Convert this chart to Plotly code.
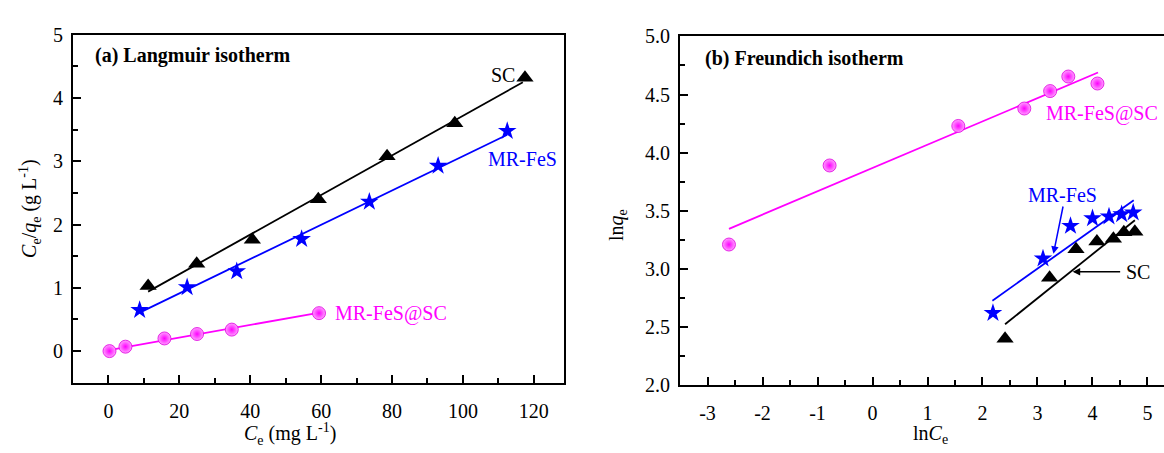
import plotly.graph_objects as go

# ---------------- data: (a) Langmuir ----------------
lang_sc_x = [11.2, 24.9, 40.6, 59.2, 78.6, 97.7, 117.5]
lang_sc_y = [1.03, 1.38, 1.76, 2.40, 3.08, 3.60, 4.32]
lang_fes_x = [8.8, 22.2, 36.2, 54.5, 73.6, 93.0, 112.5]
lang_fes_y = [0.65, 1.01, 1.26, 1.77, 2.36, 2.93, 3.48]
lang_fessc_x = [0.3, 4.8, 15.8, 25.0, 34.8, 59.4]
lang_fessc_y = [0.0, 0.07, 0.20, 0.27, 0.34, 0.60]
# fitted lines (end points)
lang_sc_fit_x = [11.2, 116.9]
lang_sc_fit_y = [0.94, 4.25]
lang_fes_fit_x = [9.1, 112.5]
lang_fes_fit_y = [0.616, 3.42]
lang_fessc_fit_x = [0.2, 59.2]
lang_fessc_fit_y = [0.015, 0.606]

# ---------------- data: (b) Freundlich ----------------
fr_fessc_x = [-2.61, -0.78, 1.56, 2.76, 3.23, 3.56, 4.09]
fr_fessc_y = [3.21, 3.89, 4.23, 4.38, 4.53, 4.655, 4.595]
fr_fes_x = [2.19, 3.10, 3.60, 4.00, 4.30, 4.53, 4.74]
fr_fes_y = [2.62, 3.09, 3.37, 3.435, 3.45, 3.47, 3.485]
fr_sc_x = [2.41, 3.22, 3.70, 4.08, 4.38, 4.57, 4.77]
fr_sc_y = [2.40, 2.925, 3.17, 3.235, 3.26, 3.315, 3.32]
fr_fessc_fit_x = [-2.61, 4.10]
fr_fessc_fit_y = [3.345, 4.69]
fr_fes_fit_x = [2.18, 4.75]
fr_fes_fit_y = [2.727, 3.591]
fr_sc_fit_x = [2.41, 4.77]
fr_sc_fit_y = [2.524, 3.419]

BLACK = "#000000"
BLUE = "#0000FF"
MAG = "#FF00FF"
FONT = "Liberation Serif"

fig = go.Figure()

def add_series(x, y, fx, fy, color, symbol, size, xa, ya, sphere=False):
    fig.add_trace(go.Scatter(x=fx, y=fy, mode="lines",
                             line=dict(color=color, width=1.8),
                             xaxis=xa, yaxis=ya, showlegend=False, hoverinfo="skip"))
    marker = dict(color=color, symbol=symbol, size=size, line=dict(width=0))
    if sphere:
        marker = dict(color="#FFA0FF", symbol="circle", size=size,
                      gradient=dict(type="radial", color=color),
                      line=dict(width=0.8, color="#E000E0"))
    fig.add_trace(go.Scatter(x=x, y=y, mode="markers", marker=marker,
                             xaxis=xa, yaxis=ya, showlegend=False))

add_series(lang_sc_x, lang_sc_y, lang_sc_fit_x, lang_sc_fit_y, BLACK, "triangle-up", 15, "x", "y")
add_series(lang_fes_x, lang_fes_y, lang_fes_fit_x, lang_fes_fit_y, BLUE, "star", 14, "x", "y")
add_series(lang_fessc_x, lang_fessc_y, lang_fessc_fit_x, lang_fessc_fit_y, MAG, "circle", 13, "x", "y", sphere=True)

add_series(fr_fessc_x, fr_fessc_y, fr_fessc_fit_x, fr_fessc_fit_y, MAG, "circle", 13, "x2", "y2", sphere=True)
add_series(fr_fes_x, fr_fes_y, fr_fes_fit_x, fr_fes_fit_y, BLUE, "star", 14, "x2", "y2")
add_series(fr_sc_x, fr_sc_y, fr_sc_fit_x, fr_sc_fit_y, BLACK, "triangle-up", 15, "x2", "y2")

axis_common = dict(showline=True, linecolor="black", linewidth=2, ticks="inside",
                   ticklen=8, tickwidth=1.5, tickcolor="black", showgrid=False, zeroline=False,
                   tickfont=dict(family=FONT, size=20, color="black"))
minor_common = dict(ticks="inside", ticklen=5, tickwidth=1.5, tickcolor="black", showgrid=False)

fig.update_layout(
    width=1164, height=453,
    margin=dict(l=0, r=0, t=0, b=0),
    paper_bgcolor="white", plot_bgcolor="white",
    showlegend=False,
    xaxis=dict(domain=[0.0627, 0.4845], range=[-10, 128.5], tickvals=[0, 20, 40, 60, 80, 100, 120],
               mirror=True, anchor="y", ticklabelstandoff=9,
               minor=dict(dtick=10, tick0=0, **minor_common), **axis_common),
    yaxis=dict(domain=[0.1375, 0.9448], range=[-0.5, 5], tickvals=[0, 1, 2, 3, 4, 5],
               mirror=True, anchor="x", ticklabelstandoff=4,
               minor=dict(dtick=0.5, tick0=0, **minor_common), **axis_common),
    xaxis2=dict(domain=[0.5842, 1.0], range=[-3.5, 5.3], tickvals=[-3, -2, -1, 0, 1, 2, 3, 4, 5],
                ticktext=["-3", "-2", "-1", "0", "1", "2", "3", "4", "5"],
                mirror=True, anchor="y2", ticklabelstandoff=9,
                minor=dict(dtick=0.5, tick0=0, **minor_common), **axis_common),
    yaxis2=dict(domain=[0.1318, 0.941], range=[2.0, 5.0], tickvals=[2.0, 2.5, 3.0, 3.5, 4.0, 4.5, 5.0],
                tickformat=".1f", mirror=False, anchor="x2", ticklabelstandoff=4,
                minor=dict(dtick=0.25, tick0=0, **minor_common), **axis_common),
)

def txt(text, x, y, color="black", size=20, xref="paper", yref="paper", xanchor="center",
        yanchor="middle", angle=0):
    fig.add_annotation(text=text, x=x, y=y, xref=xref, yref=yref, showarrow=False,
                       xanchor=xanchor, yanchor=yanchor, textangle=angle,
                       font=dict(family=FONT, size=size, color=color))

# panel titles
txt("<b>(a) Langmuir isotherm</b>", 93 / 1164, 1 - 47 / 453, xanchor="left")
txt("<b>(b) Freundich isotherm</b>", 703 / 1164, 1 - 50 / 453, xanchor="left")

# axis titles
txt("<i>C</i><sub>e</sub>/<i>q</i><sub>e</sub> (g L<sup>-1</sup>)", 30 / 1164, 1 - 208 / 453, angle=-90)
txt("<i>C</i><sub>e</sub> (mg L<sup>-1</sup>)", 290 / 1164, 1 - 445 / 453)
txt("ln<i>q</i><sub>e</sub>", 617 / 1164, 1 - 225 / 453, angle=-90)
txt("ln<i>C</i><sub>e</sub>", 930 / 1164, 1 - 445 / 453)

# series labels, panel (a)
txt("SC", 111.4, 4.37, xref="x", yref="y")
txt("MR-FeS", 116.8, 3.04, color=BLUE, xref="x", yref="y")
txt("MR-FeS@SC", 63.4, 0.6, color=MAG, xref="x", yref="y", xanchor="left")

# series labels, panel (b)
txt("MR-FeS@SC", 4.18, 4.335, color=MAG, xref="x2", yref="y2")
txt("MR-FeS", 3.46, 3.64, color=BLUE, xref="x2", yref="y2")
txt("SC", 4.58, 2.975, xref="x2", yref="y2", xanchor="left")

fig.add_annotation(x=3.29, y=3.13, ax=3.47, ay=3.55, xref="x2", yref="y2", axref="x2", ayref="y2",
                   showarrow=True, arrowhead=2, arrowsize=1, arrowwidth=1.5, arrowcolor=BLUE, text="")
fig.add_annotation(x=3.64, y=2.975, ax=4.53, ay=2.975, xref="x2", yref="y2", axref="x2", ayref="y2",
                   showarrow=True, arrowhead=2, arrowsize=1, arrowwidth=1.5, arrowcolor=BLACK, text="")

fig.write_html("out.html")
